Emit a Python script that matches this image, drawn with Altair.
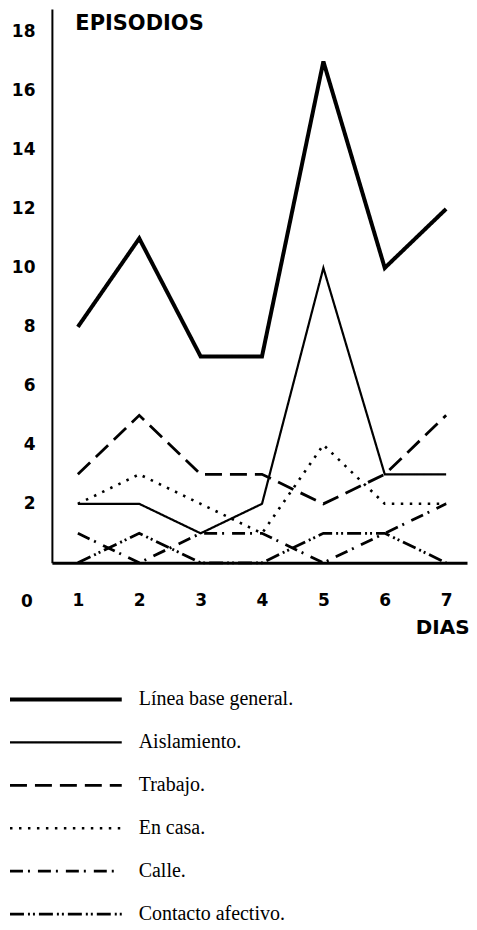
import altair as alt
import pandas as pd

# ---- data ----
dias = [1, 2, 3, 4, 5, 6, 7]
series = ["Línea base general.", "Aislamiento.", "Trabajo.", "En casa.", "Calle.", "Contacto afectivo."]
linea_base = [8, 11, 7, 7, 17, 10, 12]
aislamiento = [2, 2, 1, 2, 10, 3, 3]
trabajo = [3, 5, 3, 3, 2, 3, 5]
en_casa = [2, 3, 2, 1, 4, 2, 2]
calle = [1, 0, 1, 1, 0, 1, 2]
contacto = [0, 1, 0, 0, 1, 1, 0]
y_ticks = [2, 4, 6, 8, 10, 12, 14, 16, 18]

# ---- styles ----
dashes = [[1, 0], [1, 0], [17, 8], [2.5, 6.5], [13, 5, 2, 8], [14, 4, 2, 3, 2, 4]]
widths = [4, 2.2, 2.8, 2.6, 2.8, 2.8]
SANS = "DejaVu Sans"
SERIF = "Liberation Serif"

rows = []
for name, vals in zip(series, [linea_base, aislamiento, trabajo, en_casa, calle, contacto]):
    for d, v in zip(dias, vals):
        rows.append({"dia": d, "episodios": v, "serie": name})
df = pd.DataFrame(rows)

W, H = 416, 555

leg = alt.Legend(
    orient="none", legendX=-44, legendY=670.8, title=None,
    symbolType="stroke", symbolSize=12544, symbolStrokeColor="black",
    clipHeight=42.4, rowPadding=0, padding=0,
    labelFont=SERIF, labelFontSize=20, labelColor="black",
    labelOffset=15, labelBaseline="middle", labelLimit=400,
)

lines = alt.Chart(df).mark_line(color="black", strokeJoin="miter", strokeCap="butt").encode(
    x=alt.X(
        "dia:Q",
        scale=alt.Scale(domain=[0.577, 7.34], nice=False, zero=False),
        axis=alt.Axis(
            values=dias, format="d", ticks=False, grid=False,
            labelFont=SANS, labelFontWeight="bold", labelFontSize=17, labelColor="black",
            labelPadding=30, domainColor="black", domainWidth=3,
            title="DIAS", titleFont=SANS, titleFontWeight="bold", titleFontSize=20,
            titleColor="black", titleX=418, titleY=65, titleAlign="right",
            titleBaseline="middle",
        ),
    ),
    y=alt.Y(
        "episodios:Q",
        scale=alt.Scale(domain=[0, 18.78], nice=False, zero=False),
        axis=alt.Axis(
            values=y_ticks, format="d", ticks=False, grid=False,
            labelFont=SANS, labelFontWeight="bold", labelFontSize=17, labelColor="black",
            labelPadding=17, domainColor="black", domainWidth=2,
            title="EPISODIOS", titleFont=SANS, titleFontWeight="bold", titleFontSize=21,
            titleColor="black", titleAngle=0, titleX=23, titleY=15, titleAlign="left",
            titleBaseline="middle",
        ),
    ),
    strokeDash=alt.StrokeDash("serie:N", scale=alt.Scale(domain=series, range=dashes), legend=leg),
    strokeWidth=alt.StrokeWidth("serie:N", scale=alt.Scale(type="ordinal", domain=series, range=widths), legend=leg),
    detail="serie:N",
)

zero_label = alt.Chart(pd.DataFrame({"t": ["0"]})).mark_text(
    font=SANS, fontWeight="bold", fontSize=17, color="black", baseline="middle", align="center"
).encode(text="t:N", x=alt.value(-25), y=alt.value(594))

chart = alt.layer(lines, zero_label).properties(
    width=W, height=H,
    padding={"left": 0, "top": 0, "right": 0, "bottom": 0},
    background="white",
).configure_view(stroke=None)

chart.save("out.html", embed_options={"renderer": "svg", "actions": False})
